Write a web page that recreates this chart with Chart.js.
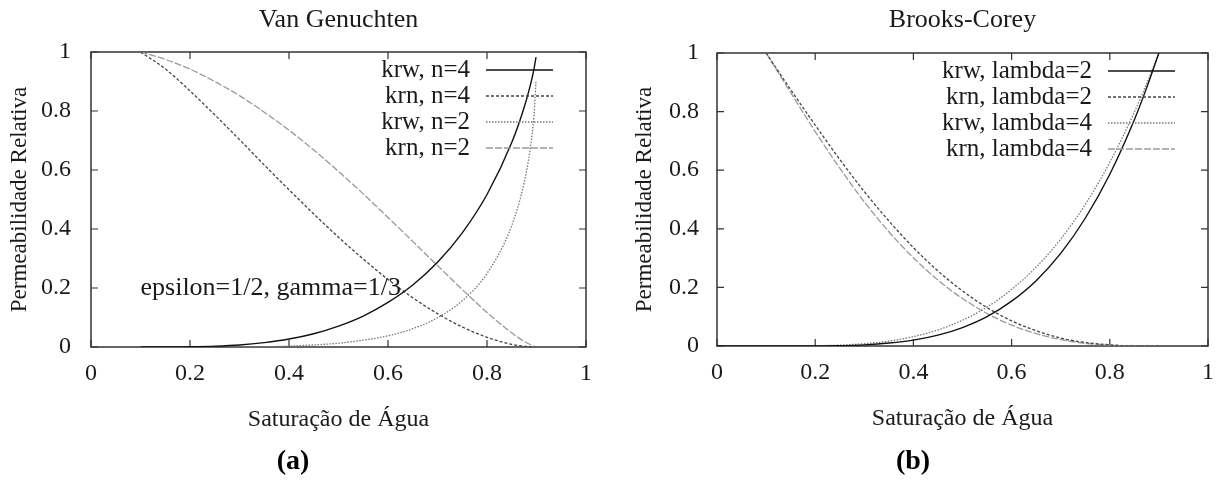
<!DOCTYPE html>
<html>
<head>
<meta charset="utf-8">
<script src="https://cdn.jsdelivr.net/npm/chart.js@4.4.1/dist/chart.umd.min.js"></script>
<style>
    body { margin: 0; background: #fff; width: 1226px; height: 494px; overflow: hidden; position: relative; }
    canvas { position: absolute; top: 0; }
    #vg { left: 0; }
    #bc { left: 613px; }
</style>
</head>
<body>
<canvas id="vg" width="613" height="494"></canvas>
<canvas id="bc" width="613" height="494"></canvas>
<script>
/************** Data **************************************/

// Van Genuchten (a)
const vgX = [0.1, 0.15, 0.2, 0.25, 0.3, 0.35, 0.4, 0.45, 0.5, 0.55, 0.6, 0.65, 0.7, 0.75, 0.8, 0.85, 0.875, 0.8875, 0.895, 0.899];
const vgKrw4 = [0, 0.000, 0.001, 0.003, 0.007, 0.015, 0.027, 0.045, 0.071, 0.105, 0.151, 0.210, 0.287, 0.387, 0.517, 0.693, 0.812, 0.887, 0.943, 0.983];
const vgKrn4 = [1, 0.943, 0.868, 0.787, 0.703, 0.617, 0.533, 0.451, 0.372, 0.298, 0.229, 0.167, 0.113, 0.068, 0.033, 0.009, 0.003, 0.001, 0.000, 0];
const vgKrw2 = [0, 0, 0, 0, 0.001, 0.001, 0.003, 0.007, 0.013, 0.023, 0.038, 0.062, 0.099, 0.157, 0.249, 0.412, 0.557, 0.674, 0.787, 0.902];
const vgKrn2 = [1, 0.975, 0.942, 0.900, 0.852, 0.796, 0.735, 0.668, 0.595, 0.519, 0.439, 0.358, 0.276, 0.195, 0.117, 0.048, 0.019, 0.008, 0.002, 0.000];
const vgLabels = ['krw, n=4', 'krn, n=4', 'krw, n=2', 'krn, n=2'];

// Brooks-Corey (b)
const bcXw = [0, 0.05, 0.1, 0.15, 0.2, 0.25, 0.3, 0.35, 0.4, 0.45, 0.5, 0.55, 0.6, 0.65, 0.7, 0.75, 0.8, 0.85, 0.875, 0.9];
const bcKrw2 = [0, 0, 0, 0.000, 0.000, 0.001, 0.004, 0.010, 0.020, 0.037, 0.063, 0.100, 0.153, 0.223, 0.316, 0.436, 0.586, 0.772, 0.881, 1];
const bcKrw4 = [0, 0, 0, 0.000, 0.001, 0.003, 0.008, 0.017, 0.032, 0.055, 0.088, 0.133, 0.193, 0.269, 0.365, 0.483, 0.627, 0.798, 0.895, 1];
const bcXn = [0.1, 0.15, 0.2, 0.25, 0.3, 0.35, 0.4, 0.45, 0.5, 0.55, 0.6, 0.65, 0.7, 0.75, 0.8, 0.85, 0.875, 0.9];
const bcKrn2 = [1, 0.875, 0.754, 0.637, 0.527, 0.427, 0.336, 0.256, 0.188, 0.131, 0.086, 0.052, 0.027, 0.012, 0.004, 0.000, 0.000, 0];
const bcKrn4 = [1, 0.865, 0.732, 0.607, 0.492, 0.390, 0.301, 0.225, 0.162, 0.111, 0.071, 0.042, 0.022, 0.009, 0.003, 0.000, 0.000, 0];
const bcLabels = ['krw, lambda=2', 'krn, lambda=2', 'krw, lambda=4', 'krn, lambda=4'];

const axisTicks = [0, 0.2, 0.4, 0.6, 0.8, 1];

/************** Styles ****************/
const FONT = "'Liberation Serif', 'Times New Roman', serif";
const TEXT = '#1a1a1a';

// gnuplot-like line types: solid, dashed, dotted, light dashed
const lineStyles = [
    { color: '#111111', dash: [], width: 1.4 },
    { color: '#444444', dash: [3, 2], width: 1.3 },
    { color: '#777777', dash: [1.5, 1.5], width: 1.3 },
    { color: '#9a9a9a', dash: [7, 2], width: 1.3 }
];

function points(xs, ys) {
    return xs.map((x, i) => ({ x: x, y: ys[i] }));
}

function makeDataset(label, xs, ys, style) {
    return {
        label: label,
        data: points(xs, ys),
        showLine: true,
        borderColor: style.color,
        borderWidth: style.width,
        borderDash: style.dash,
        pointRadius: 0,
        cubicInterpolationMode: 'monotone',
        fill: false
    };
}

// frame with inward ticks on every side
const frameTicks = {
    id: 'frameTicks',
    beforeDatasetsDraw(chart) {
        const { ctx, chartArea: a, scales } = chart;
        ctx.save();
        ctx.strokeStyle = '#333';
        ctx.lineWidth = 1.5;
        ctx.strokeRect(a.left, a.top, a.right - a.left, a.bottom - a.top);
        ctx.lineWidth = 1.2;
        const len = 7;
        ctx.beginPath();
        axisTicks.forEach((v) => {
            const px = scales.x.getPixelForValue(v);
            const py = scales.y.getPixelForValue(v);
            ctx.moveTo(px, a.bottom); ctx.lineTo(px, a.bottom - len);
            ctx.moveTo(px, a.top); ctx.lineTo(px, a.top + len);
            ctx.moveTo(a.left, py); ctx.lineTo(a.left + len, py);
            ctx.moveTo(a.right, py); ctx.lineTo(a.right - len, py);
        });
        ctx.stroke();
        ctx.restore();
    }
};

// key in the top right corner, text right aligned before the sample line
const keyBox = {
    id: 'keyBox',
    afterDatasetsDraw(chart, args, opts) {
        const { ctx, chartArea: a } = chart;
        ctx.save();
        ctx.font = opts.font;
        ctx.fillStyle = TEXT;
        ctx.textAlign = 'right';
        ctx.textBaseline = 'middle';
        chart.data.datasets.forEach((ds, i) => {
            const y = a.top + 18 + i * 26;
            ctx.fillText(ds.label, a.right - 116, y);
            ctx.strokeStyle = ds.borderColor;
            ctx.lineWidth = ds.borderWidth;
            ctx.setLineDash(ds.borderDash);
            ctx.beginPath();
            ctx.moveTo(a.right - 100, y);
            ctx.lineTo(a.right - 33, y);
            ctx.stroke();
        });
        ctx.restore();
    }
};

// free text label placed in data coordinates
const noteLabel = {
    id: 'noteLabel',
    afterDatasetsDraw(chart, args, opts) {
        if (!opts.text) return;
        const { ctx, scales } = chart;
        ctx.save();
        ctx.font = opts.font;
        ctx.fillStyle = TEXT;
        ctx.textAlign = 'left';
        ctx.textBaseline = 'middle';
        ctx.fillText(opts.text, scales.x.getPixelForValue(opts.x), scales.y.getPixelForValue(opts.y));
        ctx.restore();
    }
};

function makeConfig(p) {
    return {
        type: 'scatter',
        data: { datasets: p.datasets },
        plugins: [frameTicks, keyBox, noteLabel],
        options: {
            responsive: false,
            animation: false,
            layout: { padding: { left: 0, right: p.padRight, top: 0, bottom: 0 } },
            plugins: {
                legend: { display: false },
                tooltip: { enabled: false },
                title: {
                    display: true,
                    text: p.title,
                    fullSize: false,
                    color: TEXT,
                    font: { family: FONT, size: 26, weight: 'normal' },
                    padding: { top: 4.4, bottom: p.titleBottom }
                },
                subtitle: {
                    display: true,
                    position: 'bottom',
                    text: p.panel,
                    color: '#000',
                    font: { family: FONT, size: 28, weight: 'bold' },
                    padding: { top: p.panelTop, bottom: 15.2 }
                },
                keyBox: { font: '25px ' + FONT },
                noteLabel: p.note || {}
            },
            scales: {
                x: {
                    type: 'linear',
                    min: 0,
                    max: 1,
                    afterBuildTicks(scale) { scale.ticks = axisTicks.map(v => ({ value: v })); },
                    afterFit(scale) { scale.height = 95; },
                    grid: { display: false, drawTicks: false },
                    border: { display: false },
                    ticks: {
                        color: TEXT,
                        padding: 12,
                        font: { family: FONT, size: 24 },
                        callback: (v) => String(v)
                    },
                    title: {
                        display: true,
                        text: 'Saturação de Água',
                        color: TEXT,
                        font: { family: FONT, size: 24 },
                        padding: { top: 0, bottom: 7.6 }
                    }
                },
                y: {
                    type: 'linear',
                    min: 0,
                    max: 1,
                    afterBuildTicks(scale) { scale.ticks = axisTicks.map(v => ({ value: v })); },
                    afterFit(scale) { scale.width = p.yWidth; },
                    grid: { display: false, drawTicks: false },
                    border: { display: false },
                    ticks: {
                        color: TEXT,
                        padding: p.yTickPad,
                        font: { family: FONT, size: 24 },
                        callback: (v) => String(v)
                    },
                    title: {
                        display: true,
                        text: 'Permeabilidade Relativa',
                        color: TEXT,
                        font: { family: FONT, size: 23 },
                        padding: { top: p.yTitlePad, bottom: 0 }
                    }
                }
            }
        }
    };
}

const vgChart = new Chart(document.getElementById('vg'), makeConfig({
    title: 'Van Genuchten',
    panel: '(a)',
    padRight: 27,
    yWidth: 91,
    yTickPad: 20,
    yTitlePad: 6,
    titleBottom: 16.4,
    panelTop: 3.2,
    note: { text: 'epsilon=1/2, gamma=1/3', x: 0.1, y: 0.2, font: '26px ' + FONT },
    datasets: [
        makeDataset(vgLabels[0], vgX, vgKrw4, lineStyles[0]),
        makeDataset(vgLabels[1], vgX, vgKrn4, lineStyles[1]),
        makeDataset(vgLabels[2], vgX, vgKrw2, lineStyles[2]),
        makeDataset(vgLabels[3], vgX, vgKrn2, lineStyles[3])
    ]
}));

const bcChart = new Chart(document.getElementById('bc'), makeConfig({
    title: 'Brooks-Corey',
    panel: '(b)',
    padRight: 13,
    yWidth: 104,
    yTickPad: 18,
    yTitlePad: 18,
    titleBottom: 17.4,
    panelTop: 4.2,
    datasets: [
        makeDataset(bcLabels[0], bcXw, bcKrw2, lineStyles[0]),
        makeDataset(bcLabels[1], bcXn, bcKrn2, lineStyles[1]),
        makeDataset(bcLabels[2], bcXw, bcKrw4, lineStyles[2]),
        makeDataset(bcLabels[3], bcXn, bcKrn4, lineStyles[3])
    ]
}));
</script>
</body>
</html>
